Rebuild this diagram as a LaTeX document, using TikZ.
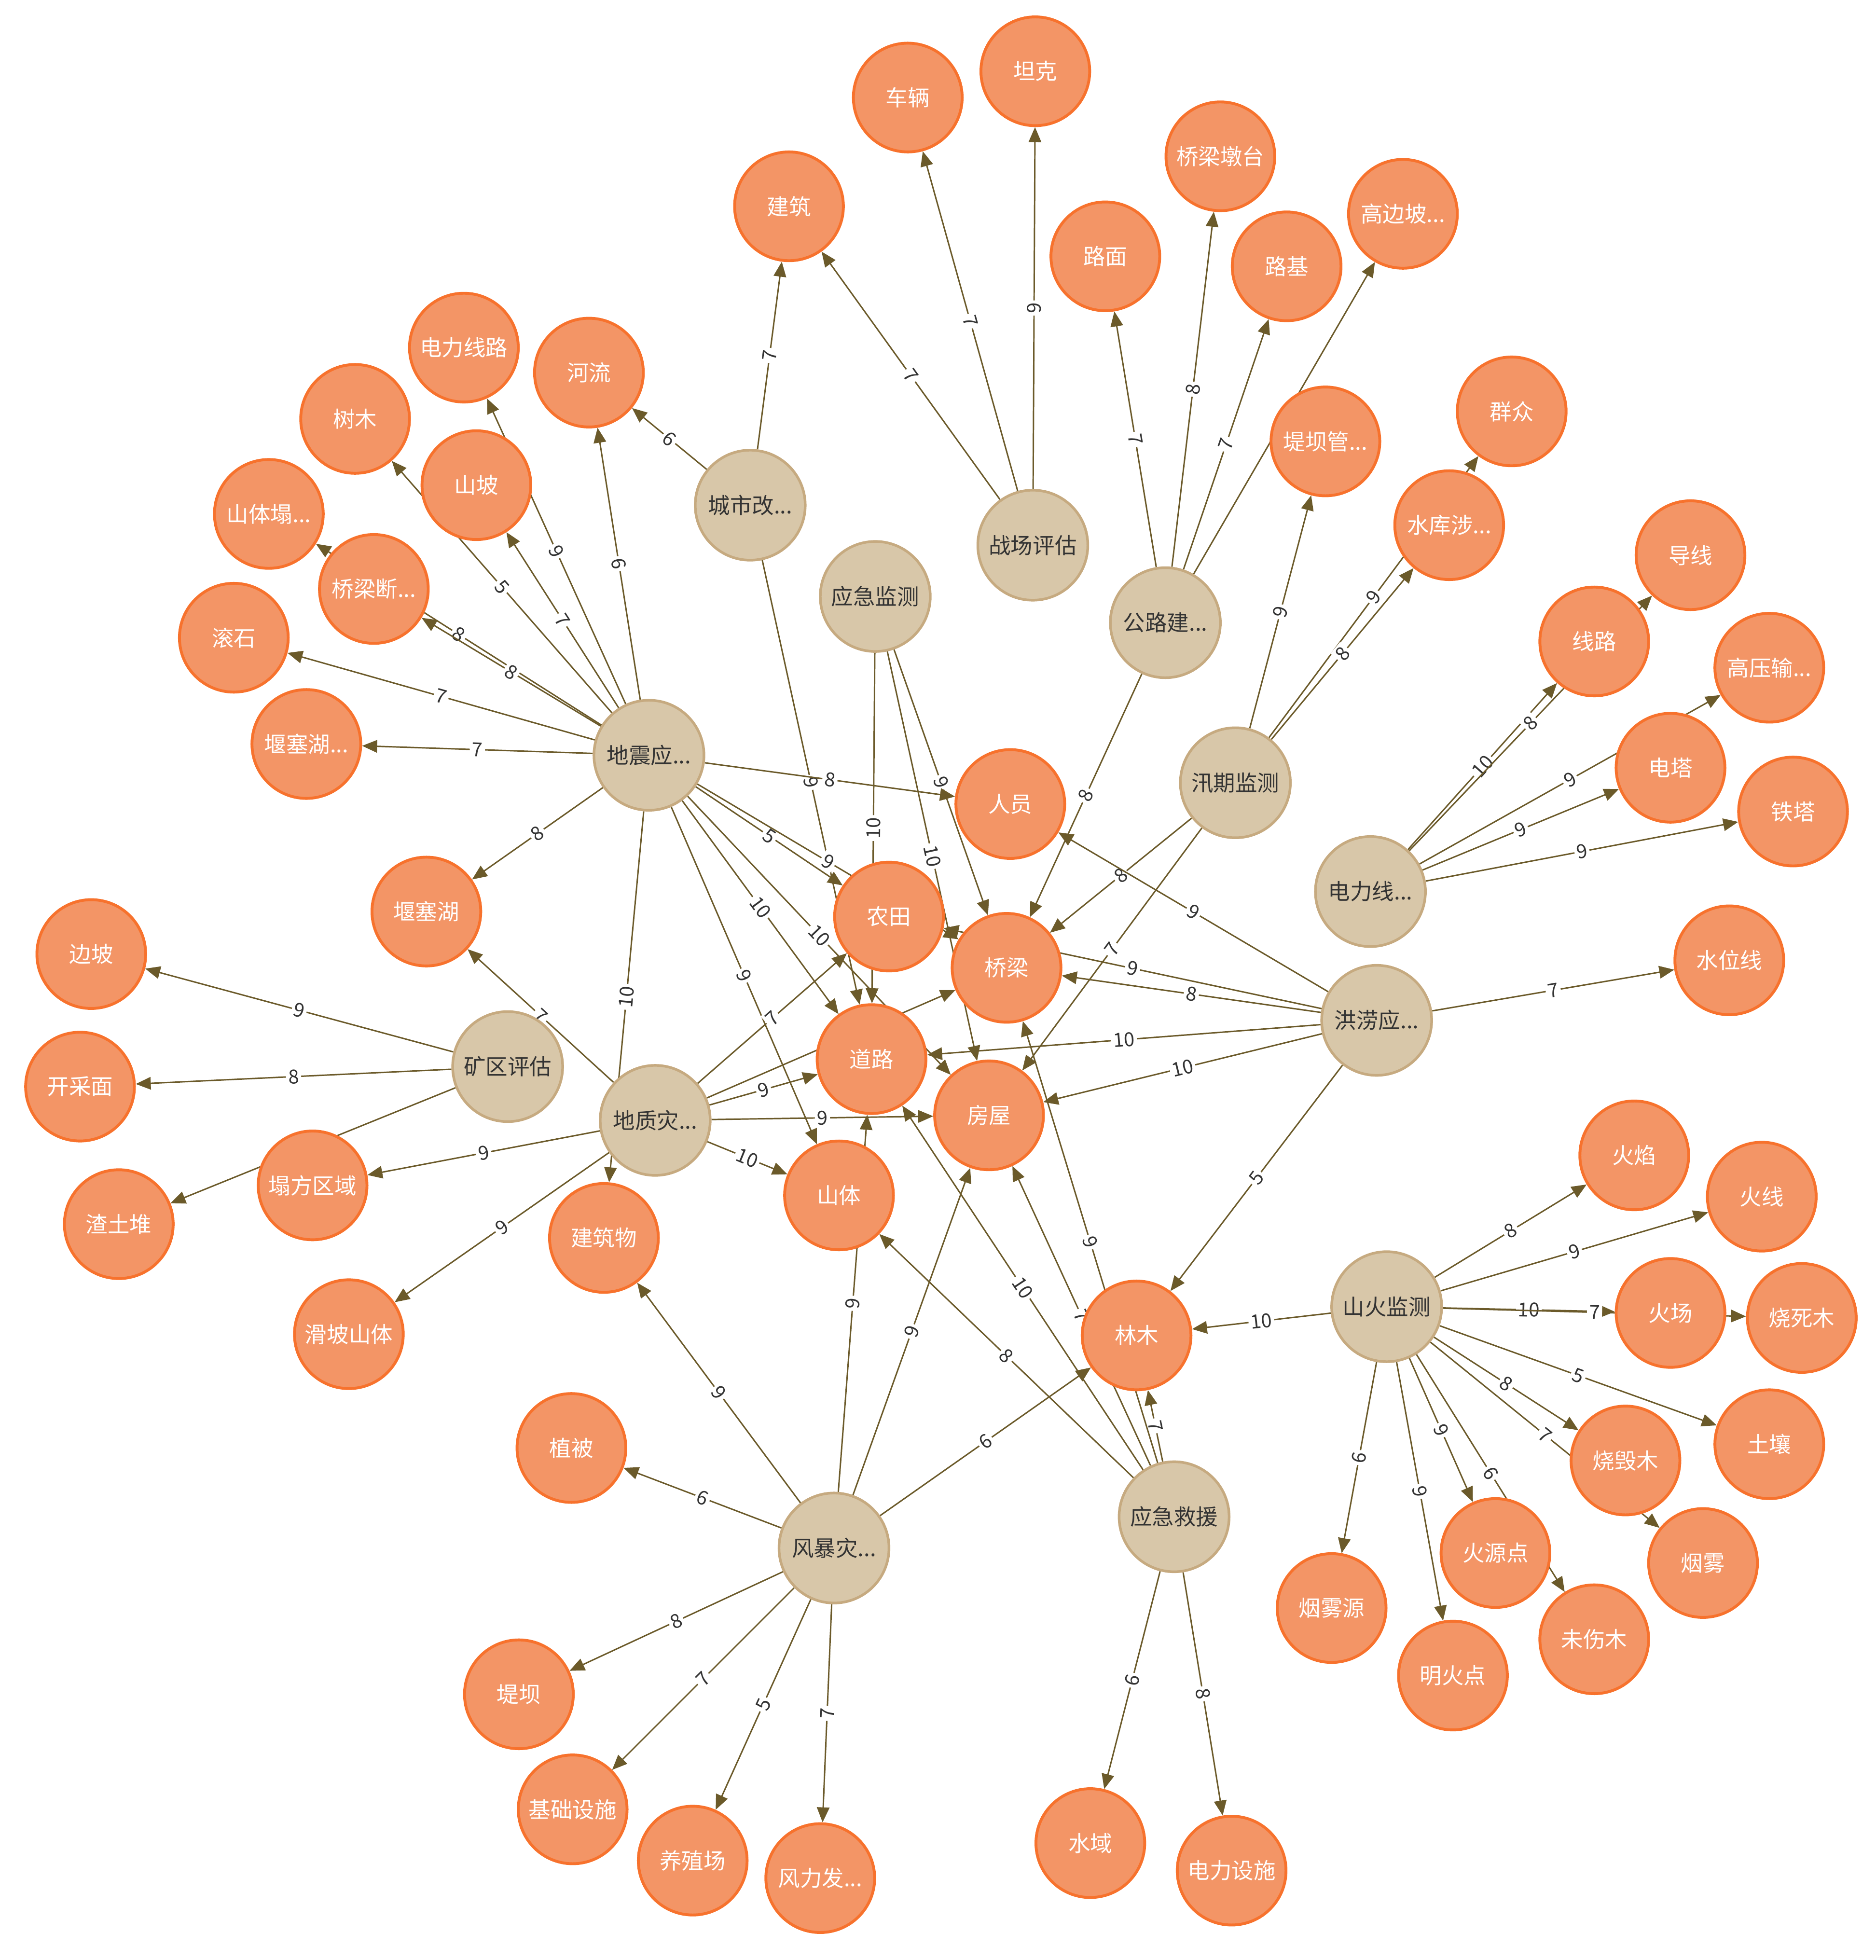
\documentclass[tikz,border=0pt]{standalone}
\usepackage{fontspec}
\newfontfamily\cjk{Noto Sans CJK SC}
\usepackage{xcolor}
\usetikzlibrary{arrows.meta,backgrounds}

\definecolor{entfill}{HTML}{F39566}
\definecolor{entdraw}{HTML}{F7722D}
\definecolor{taskfill}{HTML}{D8C7A9}
\definecolor{taskdraw}{HTML}{C6AA80}
\definecolor{reldraw}{HTML}{6B5A2A}
\definecolor{wtext}{HTML}{333333}

\begin{document}
\begin{tikzpicture}[x=0.02cm, y=-0.02cm,
    ent/.style={circle, draw=entdraw, fill=entfill, line width=1.3pt, inner sep=0pt, minimum size=1.74cm, text=white, font=\cjk\fontsize{10}{12}\selectfont},
    task/.style={circle, draw=taskdraw, fill=taskfill, line width=1.2pt, inner sep=0pt, minimum size=1.76cm, text=wtext, font=\cjk\fontsize{10}{12}\selectfont},
    rel/.style={draw=reldraw, line width=0.65pt, -{Triangle[length=0.24cm, width=0.2cm]}},
    wt/.style={midway, sloped, fill=white, inner sep=1pt, text=wtext, font=\cjk\fontsize{8.8}{9}\selectfont}]
            \useasboundingbox (0, 0) rectangle (1500, 1567.5);

            % task nodes
            \node[task] (cs) at (600, 404) {城市改...};
            \node[task] (zc) at (826, 436) {战场评估};
            \node[task] (yjjc) at (700, 477) {应急监测};
            \node[task] (gl) at (932, 498) {公路建...};
            \node[task] (xq) at (988, 626) {汛期监测};
            \node[task] (dlx) at (1096, 713) {电力线...};
            \node[task] (hl) at (1101, 816) {洪涝应...};
            \node[task] (dz) at (519, 604) {地震应...};
            \node[task] (dzz) at (524, 896) {地质灾...};
            \node[task] (kq) at (406, 853) {矿区评估};
            \node[task] (fb) at (667, 1238) {风暴灾...};
            \node[task] (yjjy) at (939, 1213) {应急救援};
            \node[task] (sh) at (1109, 1045) {山火监测};

            % entity nodes
            \node[ent] (tank) at (828, 57) {坦克};
            \node[ent] (cheliang) at (726, 78) {车辆};
            \node[ent] (jianzhu) at (631, 165) {建筑};
            \node[ent] (qldt) at (976, 125) {桥梁墩台};
            \node[ent] (gbp) at (1122, 171) {高边坡...};
            \node[ent] (lumian) at (884, 205) {路面};
            \node[ent] (luji) at (1029, 213) {路基};
            \node[ent] (dlxl) at (371, 278) {电力线路};
            \node[ent] (heliu) at (471, 298) {河流};
            \node[ent] (shumu) at (284, 335) {树木};
            \node[ent] (shanpo) at (381, 388) {山坡};
            \node[ent] (sttx) at (215, 411) {山体塌...};
            \node[ent] (qlds) at (299, 471) {桥梁断...};
            \node[ent] (gunshi) at (187, 510) {滚石};
            \node[ent] (yshx) at (245, 595) {堰塞湖...};
            \node[ent] (dbg) at (1060, 353) {堤坝管...};
            \node[ent] (qunzhong) at (1209, 329) {群众};
            \node[ent] (skx) at (1159, 420) {水库涉...};
            \node[ent] (daoxian) at (1352, 444) {导线};
            \node[ent] (xianlu) at (1275, 513) {线路};
            \node[ent] (gyss) at (1415, 534) {高压输...};
            \node[ent] (dianta) at (1336, 614) {电塔};
            \node[ent] (tieta) at (1434, 649) {铁塔};
            \node[ent] (renyuan) at (808, 643) {人员};
            \node[ent] (yshu) at (341, 729) {堰塞湖};
            \node[ent] (nongtian) at (711, 733) {农田};
            \node[ent] (qiaoliang) at (805, 774) {桥梁};
            \node[ent] (bianpo) at (73, 763) {边坡};
            \node[ent] (swx) at (1383, 768) {水位线};
            \node[ent] (daolu) at (697, 847) {道路};
            \node[ent] (fangwu) at (791, 892) {房屋};
            \node[ent] (kcm) at (64, 869) {开采面};
            \node[ent] (tfqy) at (250, 948) {塌方区域};
            \node[ent] (ztd) at (95, 979) {渣土堆};
            \node[ent] (shanti) at (671, 956) {山体};
            \node[ent] (jzw) at (483, 990) {建筑物};
            \node[ent] (huoyan) at (1307, 924) {火焰};
            \node[ent] (huoxian) at (1409, 957) {火线};
            \node[ent] (hpst) at (279, 1067) {滑坡山体};
            \node[ent] (linmu) at (909, 1068) {林木};
            \node[ent] (huochang) at (1336, 1050) {火场};
            \node[ent] (ssm) at (1441, 1054) {烧死木};
            \node[ent] (turang) at (1415, 1155) {土壤};
            \node[ent] (shmu) at (1300, 1168) {烧毁木};
            \node[ent] (zhibei) at (457, 1158) {植被};
            \node[ent] (yanwu) at (1362, 1250) {烟雾};
            \node[ent] (hyd) at (1196, 1242) {火源点};
            \node[ent] (ywy) at (1065, 1286) {烟雾源};
            \node[ent] (wsm) at (1275, 1311) {未伤木};
            \node[ent] (mhd) at (1162, 1340) {明火点};
            \node[ent] (diba) at (415, 1355) {堤坝};
            \node[ent] (jcss) at (458, 1447) {基础设施};
            \node[ent] (yzc) at (554, 1488) {养殖场};
            \node[ent] (flf) at (656, 1502) {风力发...};
            \node[ent] (shuiyu) at (872, 1474) {水域};
            \node[ent] (dlss) at (985, 1496) {电力设施};

            \begin{scope}[on background layer]
            % 城市改造
            \draw[rel] (cs) -- node[wt] {6} (heliu);
            \draw[rel] (cs) -- node[wt] {7} (jianzhu);
            \draw[rel] (cs) -- node[wt] {9} (daolu);

            % 战场评估
            \draw[rel] (zc) -- node[wt] {9} (tank);
            \draw[rel] (zc) -- node[wt] {7} (cheliang);
            \draw[rel] (zc) -- node[wt] {7} (jianzhu);

            % 应急监测
            \draw[rel] (yjjc) -- node[wt] {10} (daolu);
            \draw[rel] (yjjc) -- node[wt] {10} (fangwu);
            \draw[rel] (yjjc) -- node[wt] {9} (qiaoliang);

            % 公路建设
            \draw[rel] (gl) -- node[wt] {7} (lumian);
            \draw[rel] (gl) -- node[wt] {8} (qldt);
            \draw[rel] (gl) -- node[wt] {7} (luji);
            \draw[rel] (gl) -- node[wt] {7} (gbp);
            \draw[rel] (gl) -- node[wt] {8} (qiaoliang);

            % 汛期监测
            \draw[rel] (xq) -- node[wt] {9} (dbg);
            \draw[rel] (xq) -- node[wt] {9} (qunzhong);
            \draw[rel] (xq) -- node[wt] {8} (skx);
            \draw[rel] (xq) -- node[wt] {8} (qiaoliang);
            \draw[rel] (xq) -- node[wt] {7} (fangwu);

            % 电力线路
            \draw[rel] (dlx) -- node[wt] {10} (xianlu);
            \draw[rel] (dlx) -- node[wt] {8} (daoxian);
            \draw[rel] (dlx) -- node[wt] {9} (dianta);
            \draw[rel] (dlx) -- node[wt] {9} (gyss);
            \draw[rel] (dlx) -- node[wt] {9} (tieta);

            % 洪涝应急
            \draw[rel] (hl) -- node[wt] {7} (swx);
            \draw[rel] (hl) -- node[wt] {9} (renyuan);
            \draw[rel] (hl) -- node[wt] {9} (nongtian);
            \draw[rel] (hl) -- node[wt] {8} (qiaoliang);
            \draw[rel] (hl) -- node[wt] {10} (daolu);
            \draw[rel] (hl) -- node[wt] {10} (fangwu);
            \draw[rel] (hl) -- node[wt] {5} (linmu);

            % 地震应急
            \draw[rel] (dz) -- node[wt] {6} (heliu);
            \draw[rel] (dz) -- node[wt] {9} (dlxl);
            \draw[rel] (dz) -- node[wt] {7} (shanpo);
            \draw[rel] (dz) -- node[wt] {5} (shumu);
            \draw[rel] (dz) -- node[wt] {8} (sttx);
            \draw[rel] (dz) -- node[wt] {8} (qlds);
            \draw[rel] (dz) -- node[wt] {7} (gunshi);
            \draw[rel] (dz) -- node[wt] {7} (yshx);
            \draw[rel] (dz) -- node[wt] {8} (yshu);
            \draw[rel] (dz) -- node[wt] {8} (renyuan);
            \draw[rel] (dz) -- node[wt] {5} (nongtian);
            \draw[rel] (dz) -- node[wt] {9} (qiaoliang);
            \draw[rel] (dz) -- node[wt] {10} (daolu);
            \draw[rel] (dz) -- node[wt] {10} (fangwu);
            \draw[rel] (dz) -- node[wt] {9} (shanti);
            \draw[rel] (dz) -- node[wt] {10} (jzw);

            % 地质灾害
            \draw[rel] (dzz) -- node[wt] {7} (nongtian);
            \draw[rel] (dzz) -- node[wt] {9} (qiaoliang);
            \draw[rel] (dzz) -- node[wt] {9} (daolu);
            \draw[rel] (dzz) -- node[wt] {9} (fangwu);
            \draw[rel] (dzz) -- node[wt] {10} (shanti);
            \draw[rel] (dzz) -- node[wt] {7} (yshu);
            \draw[rel] (dzz) -- node[wt] {9} (tfqy);
            \draw[rel] (dzz) -- node[wt] {9} (hpst);

            % 矿区评估
            \draw[rel] (kq) -- node[wt] {9} (bianpo);
            \draw[rel] (kq) -- node[wt] {8} (kcm);
            \draw[rel] (kq) -- node[wt] {8} (ztd);

            % 风暴灾害
            \draw[rel] (fb) -- node[wt] {9} (jzw);
            \draw[rel] (fb) -- node[wt] {6} (zhibei);
            \draw[rel] (fb) -- node[wt] {8} (diba);
            \draw[rel] (fb) -- node[wt] {7} (jcss);
            \draw[rel] (fb) -- node[wt] {5} (yzc);
            \draw[rel] (fb) -- node[wt] {7} (flf);
            \draw[rel] (fb) -- node[wt] {9} (daolu);
            \draw[rel] (fb) -- node[wt] {9} (fangwu);
            \draw[rel] (fb) -- node[wt] {6} (linmu);

            % 应急救援
            \draw[rel] (yjjy) -- node[wt] {7} (linmu);
            \draw[rel] (yjjy) -- node[wt] {6} (shuiyu);
            \draw[rel] (yjjy) -- node[wt] {8} (dlss);
            \draw[rel] (yjjy) -- node[wt] {8} (shanti);
            \draw[rel] (yjjy) -- node[wt] {10} (daolu);
            \draw[rel] (yjjy) -- node[wt] {7} (fangwu);
            \draw[rel] (yjjy) -- node[wt] {9} (qiaoliang);

            % 山火监测
            \draw[rel] (sh) -- node[wt] {10} (linmu);
            \draw[rel] (sh) -- node[wt] {8} (huoyan);
            \draw[rel] (sh) -- node[wt] {9} (huoxian);
            \draw[rel] (sh) -- node[wt] {10} (huochang);
            \draw[rel] (sh) -- node[wt] {7} (ssm);
            \draw[rel] (sh) -- node[wt] {5} (turang);
            \draw[rel] (sh) -- node[wt] {8} (shmu);
            \draw[rel] (sh) -- node[wt] {7} (yanwu);
            \draw[rel] (sh) -- node[wt] {9} (hyd);
            \draw[rel] (sh) -- node[wt] {6} (wsm);
            \draw[rel] (sh) -- node[wt] {6} (ywy);
            \draw[rel] (sh) -- node[wt] {9} (mhd);
            \end{scope}
        \end{tikzpicture}
\end{document}
